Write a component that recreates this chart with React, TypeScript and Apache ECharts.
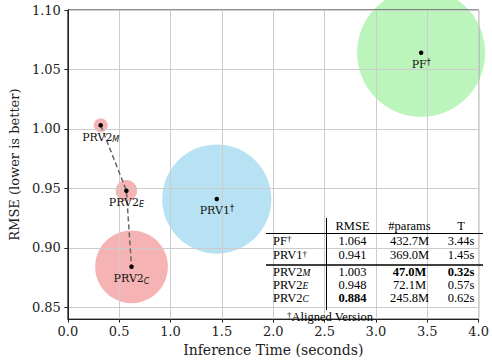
import React, { useEffect, useRef } from 'react';
import * as echarts from 'echarts';

// ---- data ----
const modelNames = ['PF†', 'PRV1†', 'PRV2_M', 'PRV2_E', 'PRV2_C'];
const modelFamily = ['PF', 'PRV1', 'PRV2', 'PRV2', 'PRV2'];
const inferenceTime = [3.44, 1.45, 0.32, 0.57, 0.62];
const rmse = [1.064, 0.941, 1.003, 0.948, 0.884];
const paramsM = [432.7, 369.0, 47.0, 72.1, 245.8];
const variantPath = ['PRV2_M', 'PRV2_E', 'PRV2_C'];
const yTicks = [0.85, 0.9, 0.95, 1.0, 1.05, 1.1];
const tableHeaders = ['RMSE', '#params', 'T'];
const footnote = 'Aligned Version';
const xAxisTitle = 'Inference Time (seconds)';
const yAxisTitle = 'RMSE (lower is better)';

// ---- styles ----
const familyColor: Record<string, string> = {
  PF: '#90EE90',
  PRV1: '#87CEEB',
  PRV2: '#F08080',
};
const SERIF = '"DejaVu Serif", serif';
const SANS = '"DejaVu Sans", sans-serif';
const TIMES = '"Liberation Serif", serif';

function toRich(name: string, p: string) {
  if (name.endsWith('†')) return `{${p}b|${name.slice(0, -1)}}{${p}sup|†}`;
  const [base, sub] = name.split('_');
  if (sub) return `{${p}b|${base}}{${p}sub|${sub}}`;
  return `{${p}b|${name}}`;
}

export default function App() {
  const ref = useRef<HTMLDivElement>(null);
  useEffect(() => {
    if (!ref.current) return;
    const chart = echarts.init(ref.current, undefined, { renderer: 'svg' });

    const bubbleData = modelNames.map((n, i) => ({
      value: [inferenceTime[i], rmse[i]],
      symbolSize: paramsM[i] * 0.296,
      itemStyle: { color: familyColor[modelFamily[i]], opacity: 0.6 },
    }));
    const pathData = variantPath.map((n) => {
      const i = modelNames.indexOf(n);
      return [inferenceTime[i], rmse[i]];
    });
    const dotData = modelNames.map((n, i) => [inferenceTime[i], rmse[i]]);

    // table
    const minR = Math.min(...rmse);
    const minP = Math.min(...paramsM);
    const minT = Math.min(...inferenceTime);
    const colX = [352.5, 409.5, 461];
    const nameX = 273;
    const headerY = 225.5;
    const rowY = [240.5, 255, 271.5, 284.5, 297.5];
    const tableFont = 12.5;
    const tRich = {
      tb: { fontFamily: TIMES, fontSize: tableFont, lineHeight: 12, verticalAlign: 'middle', color: '#000' },
      tsub: { fontFamily: TIMES, fontStyle: 'italic', fontSize: 9.5, lineHeight: 7, verticalAlign: 'bottom', color: '#000' },
      tsup: { fontFamily: TIMES, fontSize: 9, lineHeight: 7, verticalAlign: 'top', color: '#000' },
    };
    const txt = (x: number, y: number, text: string, align: string, bold = false, rich: any = undefined) => ({
      type: 'text',
      x,
      y,
      z: 10,
      silent: true,
      style: {
        text,
        rich,
        fontFamily: TIMES,
        fontSize: tableFont,
        fontWeight: bold ? 'bold' : 'normal',
        fill: '#000',
        align,
        textAlign: align,
        verticalAlign: 'middle',
        textVerticalAlign: 'middle',
      },
    });
    const graphics: any[] = [];
    tableHeaders.forEach((h, c) => graphics.push(txt(colX[c], headerY, h, 'center')));
    modelNames.forEach((n, i) => {
      graphics.push(txt(nameX, rowY[i], toRich(n, 't'), 'left', false, tRich));
      graphics.push(txt(colX[0], rowY[i], rmse[i].toFixed(3), 'center', rmse[i] === minR));
      graphics.push(txt(colX[1], rowY[i], paramsM[i].toFixed(1) + 'M', 'center', paramsM[i] === minP));
      graphics.push(txt(colX[2], rowY[i], inferenceTime[i].toFixed(2) + 's', 'center', inferenceTime[i] === minT));
    });
    graphics.push(txt(330, 316.5, `{tsup|†}{tb|${footnote}}`, 'center', false, tRich));
    const ln = (x1: number, y1: number, x2: number, y2: number, w = 1) => ({
      type: 'line',
      z: 10,
      silent: true,
      shape: { x1, y1, x2, y2 },
      style: { stroke: '#000', lineWidth: w },
    });
    graphics.push(ln(266, 233.5, 483, 233.5, 1));
    graphics.push(ln(266, 265, 483, 265, 1.5));
    graphics.push(ln(326.5, 218, 326.5, 310, 1));

    chart.setOption({
      animation: false,
      backgroundColor: '#fff',
      grid: {
        left: 62,
        right: 9,
        top: 10,
        bottom: 39,
        show: true,
        borderColor: '#222',
        borderWidth: 1,
        backgroundColor: 'transparent',
        z: 3,
      },
      xAxis: {
        type: 'value',
        min: 0,
        max: 4,
        interval: 0.5,
        z: 3,
        name: xAxisTitle,
        nameLocation: 'middle',
        nameGap: 21,
        nameTextStyle: { fontFamily: SERIF, fontSize: 14, color: '#222' },
        axisLine: { show: true, lineStyle: { color: '#222', width: 1 } },
        axisTick: { show: true, length: 3.5, lineStyle: { color: '#222' } },
        axisLabel: {
          formatter: (v: number) => v.toFixed(1),
          fontFamily: SERIF,
          fontSize: 13,
          color: '#222',
          margin: 6,
        },
        splitLine: { show: true, lineStyle: { color: '#cccccc', width: 1 } },
      },
      yAxis: {
        type: 'value',
        min: 0.84,
        max: 1.1,
        z: 3,
        name: yAxisTitle,
        nameLocation: 'middle',
        nameGap: 40,
        nameTextStyle: { fontFamily: SERIF, fontSize: 13, color: '#222' },
        axisLine: { show: true, lineStyle: { color: '#222', width: 1 } },
        axisTick: { show: true, length: 3.5, customValues: yTicks, lineStyle: { color: '#222' } },
        axisLabel: {
          customValues: yTicks,
          formatter: (v: number) => v.toFixed(2),
          fontFamily: SERIF,
          fontSize: 13,
          color: '#222',
          margin: 7,
        },
        splitLine: { show: true, lineStyle: { color: '#cccccc', width: 1 } },
      },
      series: [
        {
          type: 'scatter',
          z: 2,
          silent: true,
          data: bubbleData,
        },
        {
          type: 'line',
          z: 4,
          silent: true,
          symbol: 'none',
          data: pathData,
          lineStyle: { color: '#666', width: 1.5, type: [5, 3] },
        },
        {
          type: 'scatter',
          z: 5,
          silent: true,
          symbolSize: 4.5,
          itemStyle: { color: '#000', opacity: 1 },
          data: dotData,
          label: {
            show: true,
            position: 'bottom',
            distance: 3,
            formatter: (p: any) => toRich(modelNames[p.dataIndex], 'p'),
            rich: {
              pb: { fontFamily: SERIF, fontSize: 11, lineHeight: 13, verticalAlign: 'middle', color: '#111' },
              psub: { fontFamily: SANS, fontStyle: 'italic', fontSize: 8, lineHeight: 7, verticalAlign: 'bottom', color: '#111' },
              psup: { fontFamily: SANS, fontSize: 8, lineHeight: 7, verticalAlign: 'top', color: '#111' },
            },
          },
        },
      ],
      graphic: graphics,
    });
    return () => chart.dispose();
  }, []);
  return (
    <div
      ref={ref}
      style={{ position: 'absolute', left: 0, top: 0, width: 492, height: 362 }}
    />
  );
}
